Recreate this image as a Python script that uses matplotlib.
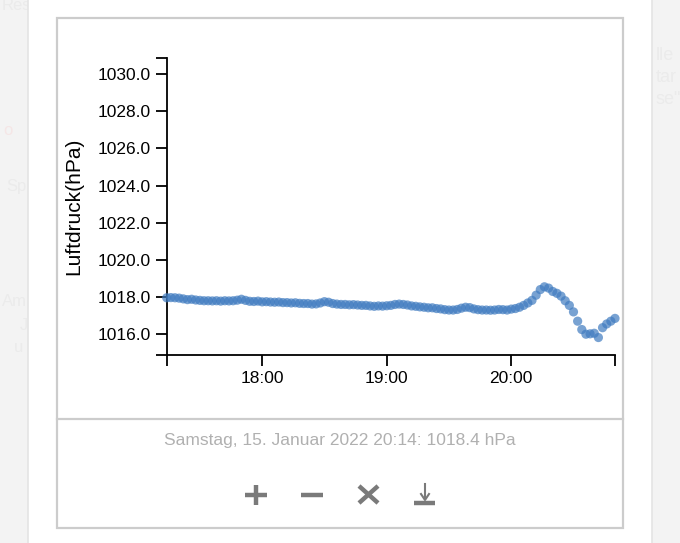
import numpy as np
import pandas as pd
import matplotlib
matplotlib.use('Agg')
import matplotlib.pyplot as plt
import matplotlib.dates as mdates
from matplotlib.patches import Rectangle
from matplotlib.lines import Line2D

# Luftdruck, alle 2 Minuten ab 17:14
start = '2022-01-15 17:14'
step_min = 2
pressure = [
    1017.96, 1017.97, 1017.96, 1017.94, 1017.90, 1017.86, 1017.88, 1017.84,
    1017.82, 1017.80, 1017.80, 1017.79, 1017.80, 1017.78, 1017.80, 1017.79,
    1017.80, 1017.83, 1017.88, 1017.82, 1017.77, 1017.76, 1017.78, 1017.74,
    1017.75, 1017.73, 1017.72, 1017.73, 1017.70, 1017.70, 1017.68, 1017.69,
    1017.66, 1017.65, 1017.65, 1017.62, 1017.63, 1017.68, 1017.75, 1017.72,
    1017.65, 1017.62, 1017.60, 1017.60, 1017.58, 1017.59, 1017.57, 1017.55,
    1017.55, 1017.52, 1017.50, 1017.52, 1017.51, 1017.53, 1017.55, 1017.60,
    1017.62, 1017.60, 1017.57, 1017.52, 1017.50, 1017.47, 1017.45, 1017.42,
    1017.42, 1017.38, 1017.36, 1017.32, 1017.30, 1017.30, 1017.33, 1017.40,
    1017.45, 1017.43, 1017.36, 1017.32, 1017.30, 1017.30, 1017.29, 1017.30,
    1017.33, 1017.32, 1017.30, 1017.35, 1017.38, 1017.45, 1017.55, 1017.68,
    1017.82, 1018.10, 1018.40, 1018.55, 1018.48, 1018.30, 1018.20, 1018.05,
    1017.80, 1017.55, 1017.20, 1016.70, 1016.25, 1016.00, 1016.02, 1016.05,
    1015.82, 1016.35, 1016.55, 1016.70, 1016.85,
]
times = pd.date_range(start, periods=len(pressure), freq=f'{step_min}min')

y_ticks = [1016, 1018, 1020, 1022, 1024, 1026, 1028, 1030]
y_lim = (1014.88, 1030.88)
x_ticks = ['2022-01-15 18:00', '2022-01-15 19:00', '2022-01-15 20:00']
y_label = 'Luftdruck(hPa)'
hover_time = '2022-01-15 20:14'

W, H = 680, 543
fig = plt.figure(figsize=(W / 100, H / 100), dpi=100)
fig.patch.set_facecolor('#f3f3f3')
plt.rcParams['font.family'] = ['Liberation Sans', 'DejaVu Sans']


def px_rect(x0, y0, x1, y1, **kw):
    # rectangle in pixel coords (y from top)
    return Rectangle((x0 / W, 1 - y1 / H), (x1 - x0) / W, (y1 - y0) / H,
                     transform=fig.transFigure, zorder=-10, **kw)


def px_line(xs, ys, **kw):
    fig.add_artist(Line2D([x / W for x in xs], [1 - y / H for y in ys],
                          transform=fig.transFigure, zorder=-5, **kw))


# faint page in the background
for txt, x, y in [('Res', 2, 6), ('Sp', 6, 187), ('Am', 2, 302), ('J', 20, 325), ('u', 14, 347)]:
    fig.text(x / W, 1 - y / H, txt, color='#ebebeb', fontsize=12, va='center', zorder=-20)
fig.text(3 / W, 1 - 130 / H, 'o', color='#f5e6e6', fontsize=12, va='center', zorder=-20)
for txt, y in [('lle', 55), ('tar', 78), ('se"', 100)]:
    fig.text(656 / W, 1 - y / H, txt, color='#ebebeb', fontsize=13, va='center', zorder=-20)

# white panel + box
fig.add_artist(px_rect(28, -5, 652, H + 5, facecolor='white', edgecolor='#e4e4e4', lw=1.2))
fig.add_artist(px_rect(57, 18, 623, 528, facecolor='white', edgecolor='#cccccc', lw=1.6))
px_line([57, 623], [419, 419], color='#cccccc', lw=1.6)

# chart
ax = fig.add_axes([166.7 / W, 1 - 355 / H, (615 - 166.7) / W, (355 - 57.7) / H])
ax.set_facecolor('none')
ax.scatter(times, pressure, s=44, color='#3f7bc0', alpha=0.7, edgecolors='none',
           zorder=3, clip_on=False)

ax.set_ylim(*y_lim)
ax.set_xlim(times[0], times[-1])
ax.set_yticks(y_ticks)
ax.set_yticklabels([f'{v:.1f}' for v in y_ticks])
ax.set_yticks(list(y_lim), minor=True)
ax.set_xticks(pd.to_datetime(x_ticks))
ax.set_xticks([times[0], times[-1]], minor=True)
ax.xaxis.set_major_formatter(mdates.DateFormatter('%H:%M'))
ax.tick_params(which='both', length=8, width=1.3, color='black', labelsize=12.5, pad=3.5)

for s in ['top', 'right']:
    ax.spines[s].set_visible(False)
for s in ['left', 'bottom']:
    ax.spines[s].set_linewidth(1.3)
ax.set_ylabel(y_label, fontsize=15, labelpad=10)

# hover info
hv = pressure[list(times).index(pd.Timestamp(hover_time))]
fig.text(340 / W, 1 - 441 / H, f'Samstag, 15. Januar 2022 20:14: {hv:.1f} hPa',
         color='#b0b0b0', fontsize=12.5, ha='center', va='center')

# toolbar icons
ic = dict(color='#7a7a7a', lw=3.2, solid_capstyle='butt')
px_line([245, 267], [495, 495], **ic)
px_line([256, 256], [485, 505], **ic)
px_line([301, 323], [495, 495], **ic)
px_line([359, 378], [486, 503], **ic)
px_line([359, 378], [503, 486], **ic)
px_line([414, 435], [503, 503], **ic)
px_line([425, 425], [484, 498], color='#7a7a7a', lw=1.5)
px_line([421, 425, 429], [494, 500, 494], color='#7a7a7a', lw=1.5)

fig.savefig('out.png', dpi=100, facecolor=fig.get_facecolor())
